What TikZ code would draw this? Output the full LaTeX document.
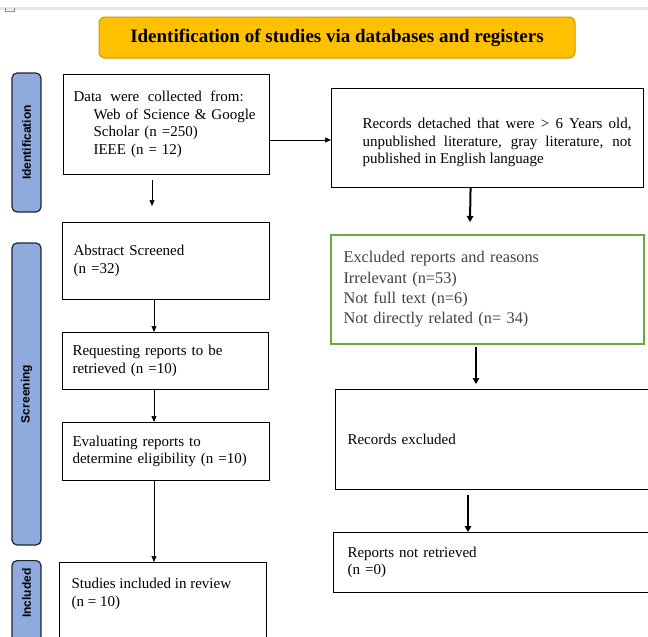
\documentclass[tikz,border=0pt]{standalone}
\usepackage{fontspec}
\setmainfont{Liberation Serif}
\setsansfont{Liberation Sans}
\usetikzlibrary{arrows.meta}

\definecolor{titlegold}{HTML}{FFC000}
\definecolor{titleedge}{HTML}{C99A06}
\definecolor{barblue}{HTML}{8FAADC}
\definecolor{baredge}{HTML}{1E2535}
\definecolor{boxgreen}{HTML}{6BAA40}
\definecolor{reasongray}{HTML}{404048}

\begin{document}
\begin{tikzpicture}[x=1pt,y=-1pt,
    box/.style={draw,line width=1.1pt,anchor=north west,align=left,inner ysep=0pt,inner xsep=10pt,
                font=\fontsize{15}{17.5}\selectfont},
    side/.style={draw=baredge,fill=barblue,line width=1.2pt,rounded corners=5pt,rotate=90,
                 minimum height=29pt,inner sep=0pt,font=\sffamily\bfseries\fontsize{12}{14}\selectfont},
    downarr/.style={-{Triangle[length=6pt,width=5pt]},line width=0.7pt},
    boldarr/.style={-{Triangle[length=6pt,width=6.5pt]},line width=2pt}]

    \useasboundingbox (0,0) rectangle (648,637);
    \fill[black!10] (0,7) rectangle (648,10);
    \draw[black!45,line width=0.6pt] (5,8) -- (5,11) -- (14,11) -- (14,8);

    \node[draw=titleedge,fill=titlegold,line width=1pt,rounded corners=6pt,minimum width=476pt,minimum height=41pt,
          font=\bfseries\fontsize{19}{22}\selectfont] (title) at (337,37.5) {Identification of studies via databases and registers};

    % phases on the left
    \node[side,minimum width=139pt] (ident) at (26.5,142.5) {Identification};
    \node[side,minimum width=302pt] (screen) at (26.5,394) {Screening};
    \node[side,minimum width=120pt,text width=104pt,inner xsep=8pt,align=right,anchor=east] (incl) at (26.5,560) {Included};

    % left column
    \node[box,text width=186pt,minimum height=100pt] (data) at (63,74)
        {{\spaceskip=8.4pt Data were collected from:}\\ \hspace*{20pt}Web of Science \& Google\\
         \hspace*{20pt}Scholar (n =250)\\ \hspace*{20pt}IEEE (n = 12)};
    \node[box,text width=185pt,inner xsep=11pt,minimum height=77pt] (abstr) at (62,222) {Abstract Screened\\(n =32)};
    \node[box,text width=186pt,minimum height=57pt] (request) at (62,332) {Requesting reports to be\\retrieved (n =10)};
    \node[box,text width=187pt,minimum height=58pt] (eval) at (62,422) {Evaluating reports to\\determine eligibility (n =10)};
    \node[box,inner xsep=12pt,inner ysep=16pt] (studies) at (59,562)
        {\parbox[t][90pt][t]{183pt}{Studies included in review\\(n = 10)}};

    % right column
    \node[box,inner xsep=0pt,minimum width=312pt,minimum height=99pt] (detach) at (331,88)
        {\hspace*{31pt}\parbox{269pt}{\vspace*{9pt}Records detached that were > 6 Years old,\linebreak
         unpublished literature, gray literature, not\linebreak published in English language}\hspace*{12pt}};
    \node[box,draw=none,text width=288pt,inner xsep=12pt,minimum height=108pt,
          font=\fontsize{16.3}{20.3}\selectfont\color{reasongray}] (reasons) at (331,235)
        {Excluded reports and reasons\\Irrelevant (n=53)\\Not full text (n=6)\\Not directly related (n= 34)};
    \draw[draw=boxgreen,line width=1.4pt] (reasons.north west) rectangle (reasons.south east);
    \node[box,text width=296pt,inner xsep=12pt,minimum height=100pt] (recexcl) at (335,389) {Records excluded};
    \node[box,text width=296pt,inner xsep=14pt,minimum height=60pt] (notret) at (333,532) {Reports not retrieved\\(n =0)};

    % connectors
    \coordinate (lx) at (154,0);
    \coordinate (ry) at (0,140);
    \coordinate (d1) at (152,180);
    \coordinate (d2) at (152,206);
    \draw[downarr] (d1) -- (d2);
    \draw[downarr] (data.east |- ry) -- (detach.west |- ry);
    \draw[downarr] (abstr.south -| lx) -- (request.north -| lx);
    \draw[downarr] (request.south -| lx) -- (eval.north -| lx);
    \draw[downarr] (eval.south -| lx) -- (studies.north -| lx);

    \coordinate (e1) at (470,222);
    \coordinate (e2) at (476,347);
    \coordinate (e3) at (476,384);
    \coordinate (e4) at (468,495);
    \draw[boldarr] ([xshift=-17pt]detach.south) -- (e1);
    \draw[boldarr] (e2) -- (e3);
    \draw[boldarr] (e4) -- (notret.north -| e4);

\end{tikzpicture}
\end{document}
